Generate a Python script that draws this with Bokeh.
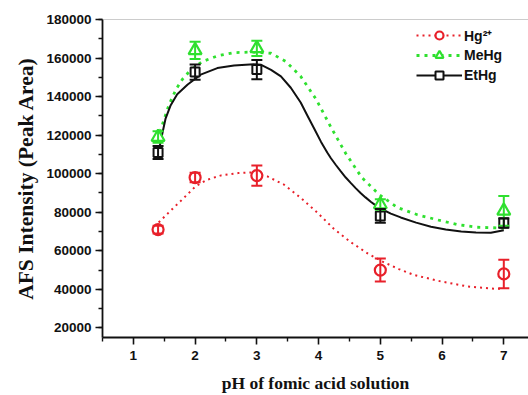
from bokeh.plotting import figure
from bokeh.models import (ColumnDataSource, Whisker, TeeHead, Legend, LegendItem,
                          Range1d, Span, FixedTicker)
from bokeh.embed import file_html
from bokeh.resources import INLINE

# measured points (pH, intensity, error)
ph = [1.4, 2, 3, 5, 7]
hg_y = [71000, 98000, 99000, 50000, 48000]
hg_e = [2000, 2500, 5300, 6000, 7400]
me_y = [119000, 164000, 165000, 84000, 80700]
me_e = [3000, 4500, 4000, 2700, 7700]
et_y = [111000, 152700, 154000, 78100, 74400]
et_e = [3400, 4000, 5000, 3600, 2500]

# fitted curves
hg_cx = [1.41, 1.60, 1.82, 2.01, 2.20, 2.42, 2.70, 2.90, 3.17, 3.44, 3.71, 3.98, 4.25, 4.52, 4.80, 5.06, 5.30, 5.54, 5.98, 6.41, 6.84, 7.0]
hg_cy = [74700, 80700, 87500, 93500, 96900, 99100, 100300, 100600, 98600, 94300, 87500, 79800, 71300, 64500, 58500, 54000, 50500, 47500, 44100, 41500, 40300, 40200]

me_cx = [1.43, 1.50, 1.58, 1.69, 1.79, 1.93, 2.12, 2.36, 2.63, 2.90, 3.23, 3.47, 3.71, 3.96, 4.20, 4.44, 4.70, 4.98, 5.28, 5.60, 5.93, 6.25, 6.57, 6.96, 7.0]
me_cy = [121600, 128400, 136000, 143700, 148800, 153900, 158200, 161100, 162800, 163100, 162500, 158200, 150500, 138600, 124100, 110500, 98000, 89200, 82400, 78700, 76000, 73600, 72200, 71800, 71800]

et_cx = [1.43, 1.45, 1.52, 1.60, 1.71, 1.88, 2.09, 2.36, 2.63, 2.95, 3.07, 3.23, 3.39, 3.55, 3.71, 3.82, 3.93, 4.04, 4.14, 4.20, 4.28, 4.36, 4.44, 4.52, 4.60, 4.68, 4.76, 4.85, 4.93, 5.01, 5.17, 5.33, 5.58, 5.82, 6.06, 6.31, 6.55, 6.79, 7.0]
et_cy = [114700, 118000, 128400, 135200, 141200, 146300, 151400, 154800, 156100, 156800, 156500, 153900, 150500, 144600, 136900, 130100, 123300, 116500, 111000, 108000, 104500, 101200, 98000, 95200, 92500, 90000, 87700, 85300, 83400, 81800, 79300, 77300, 74600, 72500, 71000, 70000, 69500, 69300, 70600]

x_ticks = [1, 2, 3, 4, 5, 6, 7]
y_ticks = [20000, 40000, 60000, 80000, 100000, 120000, 140000, 160000, 180000]
x_start, x_end = 0.5, 7.4
y_start, y_end = 15000, 180000

RED = "#e8202a"
GREEN = "#2fe02f"
BLACK = "#111111"

p = figure(width=528, height=395, output_backend="svg", toolbar_location=None,
           x_range=Range1d(x_start, x_end), y_range=Range1d(y_start, y_end),
           min_border_left=102, min_border_right=0, min_border_top=19, min_border_bottom=53)
p.outline_line_color = None
p.xgrid.visible = False
p.ygrid.visible = False
p.background_fill_color = "white"
p.border_fill_color = "white"

for ax in (p.xaxis[0], p.yaxis[0]):
    ax.axis_line_width = 1.8
    ax.axis_line_color = BLACK
    ax.major_tick_line_width = 1.6
    ax.minor_tick_line_width = 1.4
    ax.major_tick_line_color = BLACK
    ax.minor_tick_line_color = BLACK
    ax.major_tick_in = 0
    ax.minor_tick_in = 0
    ax.major_tick_out = 7
    ax.minor_tick_out = 4
    ax.major_label_text_font = "Liberation Sans"
    ax.major_label_text_font_style = "bold"
    ax.major_label_text_font_size = "13.5px"
    ax.major_label_text_color = BLACK
    ax.axis_label_text_font = "Liberation Serif"
    ax.axis_label_text_font_style = "bold"
    ax.axis_label_text_color = BLACK

p.xaxis.ticker = FixedTicker(ticks=x_ticks, minor_ticks=[v + 0.5 for v in range(0, 8)])
p.yaxis.ticker = FixedTicker(ticks=y_ticks, minor_ticks=list(range(10000, 190000, 10000)))
p.yaxis.formatter.use_scientific = False
p.xaxis.axis_label = "pH of fomic acid solution"
p.yaxis.axis_label = "AFS Intensity (Peak Area)"
p.xaxis.axis_label_text_font_size = "17.5px"
p.yaxis.axis_label_text_font_size = "21.5px"
p.xaxis.major_label_standoff = 6
p.yaxis.major_label_standoff = 4
p.xaxis.axis_label_standoff = 10
p.yaxis.axis_label_standoff = 5

p.add_layout(Span(location=y_end, dimension="width", line_color="#9a9a9a", line_width=1))

# curves
l_hg = p.line(hg_cx, hg_cy, line_color=RED, line_width=2, line_dash="2 4")
l_me = p.line(me_cx, me_cy, line_color=GREEN, line_width=2.8, line_dash="3 5")
l_et = p.line(et_cx, et_cy, line_color=BLACK, line_width=2)

# error bars
def add_err(ys, es, color):
    src = ColumnDataSource(dict(x=ph, up=[a + b for a, b in zip(ys, es)],
                                lo=[a - b for a, b in zip(ys, es)]))
    w = Whisker(base="x", upper="up", lower="lo", source=src, dimension="height",
                line_color=color, line_width=2, level="glyph",
                upper_head=TeeHead(size=11, line_color=color, line_width=2),
                lower_head=TeeHead(size=11, line_color=color, line_width=2))
    p.add_layout(w)

add_err(hg_y, hg_e, RED)
add_err(me_y, me_e, GREEN)
add_err(et_y, et_e, BLACK)

s_hg = p.scatter(ph, hg_y, marker="circle", size=11, line_color=RED, line_width=2.2,
                 fill_color="white")
s_me = p.scatter(ph, me_y, marker="triangle", size=13, line_color=GREEN, line_width=2.2,
                 fill_color="white")
s_et = p.scatter(ph, et_y, marker="square", size=9, line_color=BLACK, line_width=2,
                 fill_color="white")

legend = Legend(items=[
    LegendItem(label="Hg²⁺", renderers=[l_hg, s_hg]),
    LegendItem(label="MeHg", renderers=[l_me, s_me]),
    LegendItem(label="EtHg", renderers=[l_et, s_et]),
], location=(314, 252))
legend.background_fill_alpha = 0
legend.border_line_color = None
legend.padding = 0
legend.margin = 0
legend.spacing = 0
legend.glyph_width = 46
legend.glyph_height = 20
legend.label_height = 20
legend.label_standoff = 2
legend.label_text_font = "Liberation Sans"
legend.label_text_font_style = "bold"
legend.label_text_font_size = "14px"
legend.label_text_color = BLACK
p.add_layout(legend)

open("out.html", "w").write(file_html(p, INLINE))
